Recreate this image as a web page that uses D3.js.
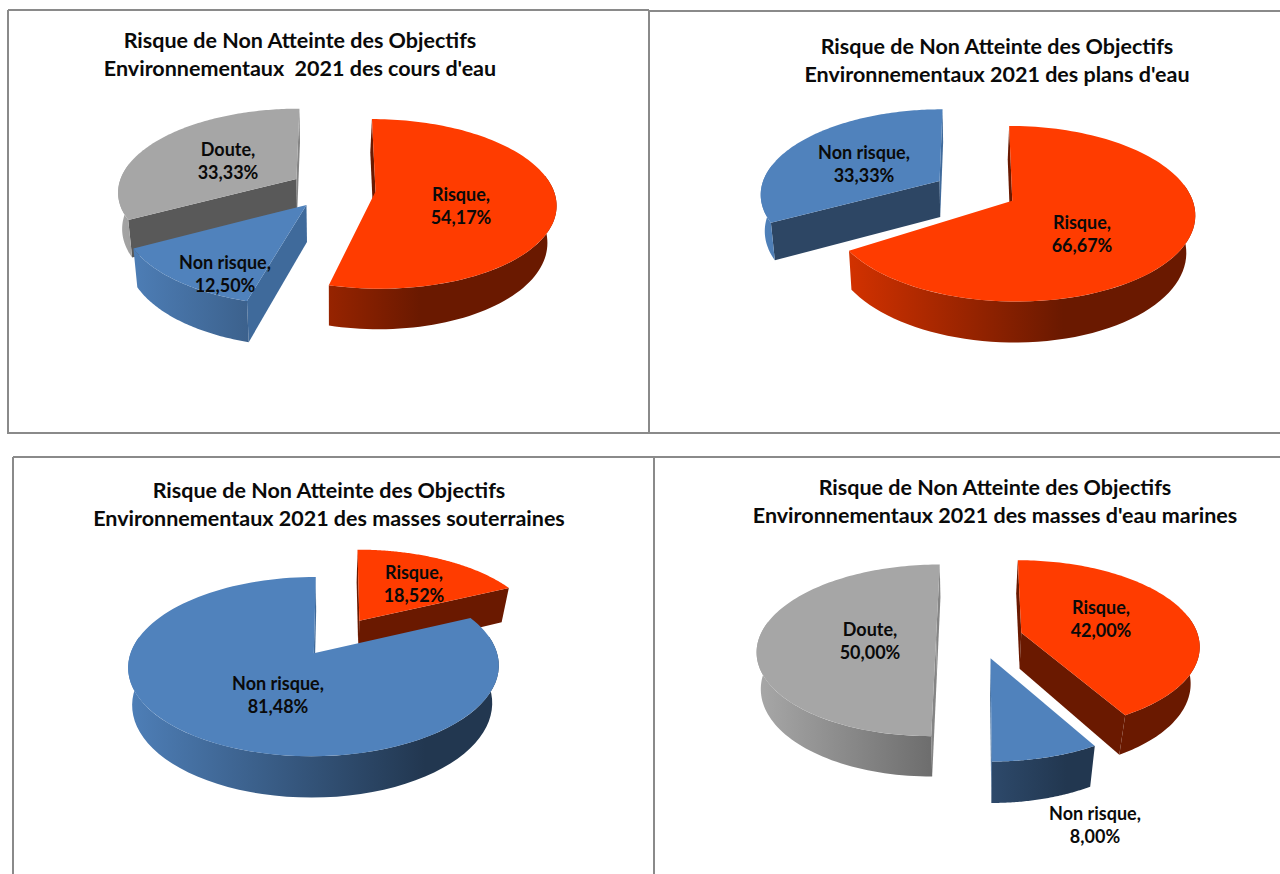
<!DOCTYPE html>
<html>
<head>
<meta charset="utf-8">
<script src="https://cdn.jsdelivr.net/npm/d3@7"></script>
<style>
  html, body { margin: 0; padding: 0; background: #fff; }
  svg { display: block; }
  text { font-family: Lato, "Open Sans", sans-serif; font-weight: 700; fill: #0a0a0a; white-space: pre; text-anchor: middle; }
</style>
</head>
<body>
<svg id="chart" width="1280" height="874"></svg>
<script>
// data
const categories = ["Risque", "Non risque", "Doute"];
const coursEau = [54.17, 12.50, 33.33];
const plansEau = [66.67, 33.33];
const souterraines = [18.52, 81.48];
const marines = [42.00, 8.00, 50.00];

const titles = [
    ["Risque de Non Atteinte des Objectifs", "Environnementaux  2021 des cours d'eau"],
    ["Risque de Non Atteinte des Objectifs", "Environnementaux 2021 des plans d'eau"],
    ["Risque de Non Atteinte des Objectifs", "Environnementaux 2021 des masses souterraines"],
    ["Risque de Non Atteinte des Objectifs", "Environnementaux 2021 des masses d'eau marines"]
];

// layout of each panel, kept apart from the values
const panels = [
    { values: coursEau, cx: 333, cy: 193, R: 179, S: 83.5, explode: 0.24, titleX: 300, titleY: 48,
      labels: [[461, 200], [225, 268], [228, 155]] },
    { values: plansEau, cx: 975.5, cy: 195, R: 179.5, S: 85, explode: 0.235, titleX: 997, titleY: 54,
      labels: [[1082, 228], [864, 158]] },
    { values: souterraines, cx: 337, cy: 641, R: 181, S: 85.5, explode: 0.23, titleX: 329, titleY: 498,
      labels: [[414, 578], [278, 689]] },
    { values: marines, cx: 979.5, cy: 642, R: 178, S: 85, explode: 0.245, titleX: 995, titleY: 495,
      labels: [[1101, 613], [1095, 819], [870, 635]] }
];

const frameLines = [
    [8, 10, 649, 10], [8, 10, 8, 434], [8, 433, 1280, 433], [649, 10, 649, 433], [650, 11, 1280, 11],
    [13, 457, 1280, 457], [13, 457, 13, 874], [654, 457, 654, 874]
];

const topColor = d3.scaleOrdinal().domain(categories).range(["#ff3c00", "#5082bc", "#a6a6a6"]);
const darkColor = d3.scaleOrdinal().domain(categories).range(["#6a1900", "#223750", "#404040"]);
const wallDark = d3.scaleOrdinal().domain(categories).range(["#6a1900", "#2d4664", "#595959"]);
const wallSide = d3.scaleOrdinal().domain(categories).range(["#6a1900", "#3f6a9b", "#858585"]);

const perspective = 0.097;
const depth = 36.5;
const bottomShift = -2;
const apexLift = 0.05;
const angleWarp = 5 * Math.PI / 180;
const frontFrom = 81 * Math.PI / 180;
const frontTo = 279 * Math.PI / 180;

const svg = d3.select("#chart");
const defs = svg.append("defs");
const polygon = d3.line();
const percent = d3.formatLocale({ decimal: ",", thousands: " ", grouping: [3], currency: ["", ""] }).format(".2f");
const pie = d3.pie().sort(null).value(d => d);

svg.append("g").selectAll("line")
    .data(frameLines)
    .join("line")
    .attr("x1", d => d[0]).attr("y1", d => d[1])
    .attr("x2", d => d[2]).attr("y2", d => d[3])
    .attr("stroke", "#8a8a8a")
    .attr("stroke-width", 2);

function drawPanel(panel, panelIndex) {
    const g = svg.append("g").attr("class", "panel");

    // disc coordinates to screen, with a little perspective
    const top = (X, Y) => {
        const w = 1 + perspective * Y;
        return [panel.cx + panel.R * X / w, panel.cy - panel.S * Y / w];
    };
    // the lower ring leans left, more towards the edges of the disc
    const bottom = (X, Y) => {
        const w = 1 + perspective * Y;
        return [panel.cx + bottomShift * Math.abs(X) + 0.97 * panel.R * X / w, panel.cy + (depth - panel.S * Y) / w];
    };

    categories.forEach(cat => {
        const grad = defs.append("linearGradient")
            .attr("id", "wall-" + panelIndex + "-" + cat.replace(" ", ""))
            .attr("gradientUnits", "userSpaceOnUse")
            .attr("x1", panel.cx - panel.R * 1.22)
            .attr("x2", panel.cx + panel.R * 1.22)
            .attr("y1", 0).attr("y2", 0);
        grad.append("stop").attr("offset", "0%").attr("stop-color", topColor(cat));
        grad.append("stop").attr("offset", "70%").attr("stop-color", darkColor(cat));
        grad.append("stop").attr("offset", "100%").attr("stop-color", darkColor(cat));
    });

    const arcs = pie(panel.values).map((d, i) => {
        const mid = (d.startAngle + d.endAngle) / 2;
        return {
            category: categories[i],
            start: d.startAngle,
            end: d.endAngle,
            dx: panel.explode * Math.sin(mid),
            dy: panel.explode * Math.cos(mid),
            value: d.value,
            label: panel.labels[i]
        };
    });

    // paint from the back to the front
    arcs.slice().sort((a, b) => b.dy - a.dy).forEach(s => {
        // the cut edges sit a few degrees off the plain angle in the picture,
        // except on the left half of a slice pulled out to the right
        const ring = (fn, a) => {
            const warp = (a > Math.PI && s.dx > 0) ? 0 : angleWarp;
            const w = a - warp * Math.sin(a);
            return fn(s.dx + Math.sin(w), s.dy + Math.cos(w));
        };
        const apexTop = top(s.dx, s.dy + apexLift);
        const apexBottom = bottom(s.dx, s.dy + apexLift);

        // d3.polygonArea is positive for a counter-clockwise quad on screen
        [[s.start, 1], [s.end, -1]].forEach(([a, facing]) => {
            const quad = [apexTop, ring(top, a), ring(bottom, a), apexBottom];
            if (d3.polygonArea(quad) * facing <= 0) return;
            g.append("path")
                .attr("d", polygon(quad) + "Z")
                .attr("fill", Math.abs(Math.cos(a)) > 0.8 ? wallSide(s.category) : wallDark(s.category));
        });

        const from = Math.max(s.start, frontFrom);
        const to = Math.min(s.end, frontTo);
        if (to > from) {
            const steps = d3.range(0, 61).map(i => from + (to - from) * i / 60);
            const wall = steps.map(a => ring(top, a)).concat(steps.slice().reverse().map(a => ring(bottom, a)));
            g.append("path")
                .attr("d", polygon(wall) + "Z")
                .attr("fill", "url(#wall-" + panelIndex + "-" + s.category.replace(" ", "") + ")");
        }

        const steps = d3.range(0, 121).map(i => s.start + (s.end - s.start) * i / 120);
        g.append("path")
            .attr("d", polygon([apexTop].concat(steps.map(a => ring(top, a)))) + "Z")
            .attr("fill", topColor(s.category));
    });

    arcs.forEach(s => {
        const t = g.append("text").attr("font-size", 18);
        t.append("tspan").attr("x", s.label[0]).attr("y", s.label[1] + 0.5).text(s.category + ",");
        t.append("tspan").attr("x", s.label[0]).attr("y", s.label[1] + 23.5).text(percent(s.value) + "%");
    });

    g.selectAll("text.title")
        .data(titles[panelIndex])
        .join("text")
        .attr("class", "title")
        .attr("font-size", 21.5)
        .attr("x", panel.titleX)
        .attr("y", (d, i) => panel.titleY + i * 28)
        .text(d => d);
}

panels.forEach(drawPanel);
</script>
</body>
</html>
